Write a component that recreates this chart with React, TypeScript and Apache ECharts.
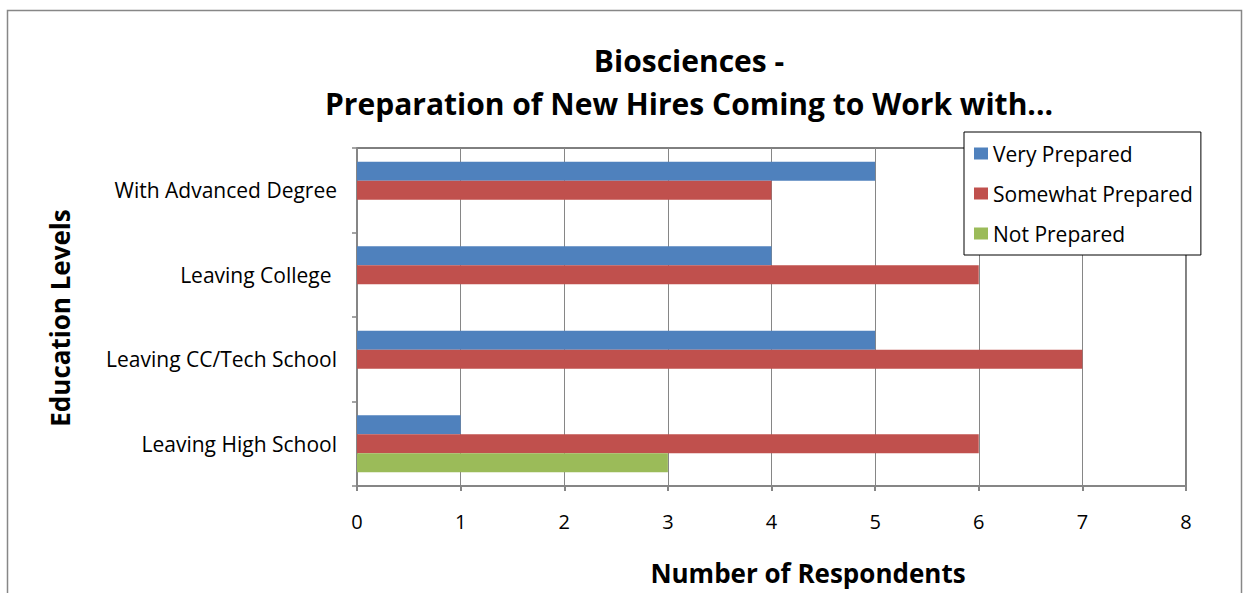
import React, { useEffect, useRef } from "react";
import * as echarts from "echarts";

const categories = [
  "With Advanced Degree",
  "Leaving College ",
  "Leaving CC/Tech School",
  "Leaving High School",
];
const veryPrepared = [5, 4, 5, 1];
const somewhatPrepared = [4, 6, 7, 6];
const notPrepared = [0, 0, 0, 3];
const seriesNames = ["Very Prepared", "Somewhat Prepared", "Not Prepared"];
const colors = ["#4F81BD", "#C0504D", "#9BBB59"];
const titleLines = ["Biosciences -", "Preparation of New Hires Coming to Work with..."];
const yAxisName = "Education Levels";
const xAxisName = "Number of Respondents";

const FONT = "'Open Sans', Lato, sans-serif";

export default function App() {
  const ref = useRef<HTMLDivElement>(null);
  useEffect(() => {
    document.body.style.margin = "0";
    if (!ref.current) return;
    const chart = echarts.init(ref.current, null, { renderer: "svg" });
    const data = [veryPrepared, somewhatPrepared, notPrepared];
    chart.setOption({
      animation: false,
      backgroundColor: "#fff",
      textStyle: { fontFamily: FONT },
      graphic: [
        {
          type: "rect",
          shape: { x: 7.5, y: 10.5, width: 1234, height: 620 },
          style: { fill: "none", stroke: "#878787", lineWidth: 1.5 },
          z: 0,
        },
        {
          type: "text",
          x: 689,
          y: 60,
          style: {
            text: titleLines[0],
            font: `bold 30px ${FONT}`,
            fill: "#000",
            textAlign: "center",
            textVerticalAlign: "middle",
          },
        },
        {
          type: "text",
          x: 689,
          y: 103,
          style: {
            text: titleLines[1],
            font: `bold 30px ${FONT}`,
            fill: "#000",
            textAlign: "center",
            textVerticalAlign: "middle",
          },
        },
        {
          type: "text",
          x: 60,
          y: 318,
          rotation: Math.PI / 2,
          style: {
            text: yAxisName,
            font: `bold 26px ${FONT}`,
            fill: "#000",
            textAlign: "center",
            textVerticalAlign: "middle",
          },
        },
        {
          type: "text",
          x: 808,
          y: 573,
          style: {
            text: xAxisName,
            font: `bold 26px ${FONT}`,
            fill: "#000",
            textAlign: "center",
            textVerticalAlign: "middle",
          },
        },
      ],
      legend: {
        orient: "vertical",
        left: 964,
        top: 132,
        padding: [11, 8, 11, 10],
        itemGap: 19,
        itemWidth: 14,
        itemHeight: 12,
        itemTextGap: 7,
        borderColor: "#000",
        borderWidth: 1,
        backgroundColor: "#fff",
        icon: "rect",
        textStyle: { fontSize: 21, color: "#000", fontFamily: FONT },
        data: seriesNames,
        z: 10,
      },
      grid: {
        left: 357,
        right: 64,
        top: 148,
        bottom: 107,
        show: true,
        borderColor: "#000",
        borderWidth: 1,
      },
      xAxis: {
        type: "value",
        min: 0,
        max: 8,
        interval: 1,
        axisLine: { show: true, lineStyle: { color: "#868686", width: 2 } },
        axisTick: { show: true, length: 5, lineStyle: { color: "#868686", width: 2 } },
        axisLabel: { fontSize: 20, color: "#000", margin: 25, fontFamily: FONT },
        splitLine: { show: true, lineStyle: { color: "#868686", width: 1 } },
      },
      yAxis: {
        type: "category",
        inverse: true,
        data: categories,
        axisLine: { show: true, lineStyle: { color: "#868686", width: 2 } },
        axisTick: { show: true, length: 5, lineStyle: { color: "#868686", width: 1.5 } },
        axisLabel: { fontSize: 21, color: "#000", margin: 20, fontFamily: FONT },
        splitLine: { show: false },
      },
      series: seriesNames.map((name, i) => ({
        name,
        type: "bar",
        data: data[i],
        itemStyle: { color: colors[i] },
        barGap: "0%",
        barCategoryGap: "32.5%",
      })),
    });
    return () => chart.dispose();
  }, []);
  return <div ref={ref} style={{ width: 1250, height: 593 }} />;
}
